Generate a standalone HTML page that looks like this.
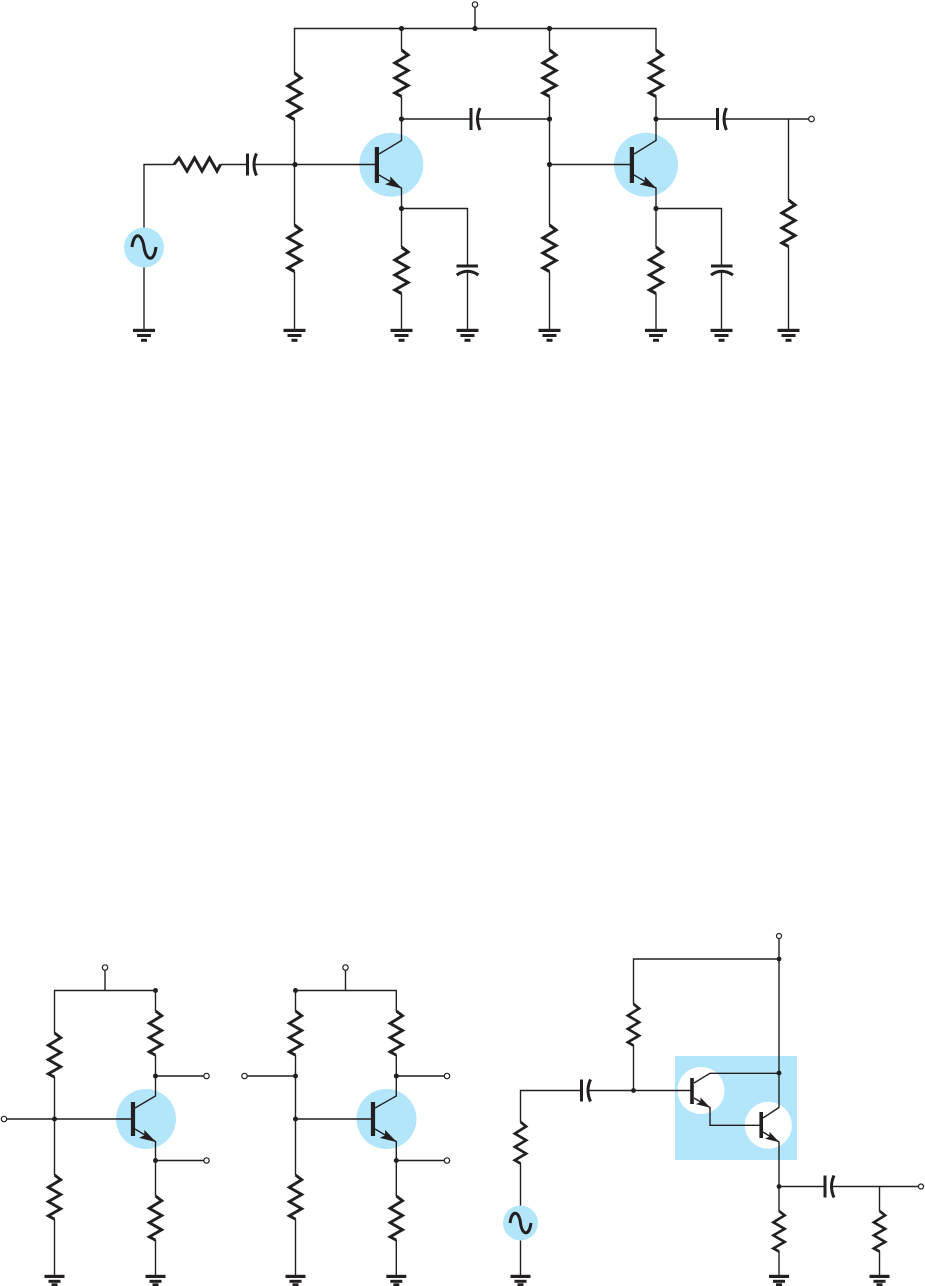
<!DOCTYPE html>
<html>
<head>
<meta charset="utf-8">
<style>
html,body{margin:0;padding:0;background:#fff;}
svg{display:block;}
.w{fill:none;stroke:#231f20;stroke-width:1.4;}
.z{fill:none;stroke:#231f20;stroke-width:3;stroke-linejoin:miter;}
.p{fill:none;stroke:#231f20;stroke-width:3;}
.d{fill:#231f20;}
.a{fill:#231f20;stroke:#231f20;stroke-width:.4;}
.t{fill:#fff;stroke:#231f20;stroke-width:1.2;}
.b{fill:#b3e5fb;}
</style>
</head>
<body>
<svg width="925" height="1286" viewBox="0 0 925 1286" xmlns="http://www.w3.org/2000/svg">
<defs>
<path id="r" class="z" d="M0 0L6.6 5L-6.6 13L6.6 20.500L-6.6 28L6.6 35.500L-6.6 43L0 46.500"/>
<g id="g"><rect x="-11" y="328.800" width="22" height="3.200" class="d"/><rect x="-7" y="334" width="14" height="3" class="d"/><rect x="-3" y="338.800" width="6" height="3" class="d"/></g>
<g id="g2"><rect x="-10" y="1274.800" width="20" height="3.200" class="d"/><rect x="-6" y="1279.800" width="12" height="3" class="d"/><rect x="-3" y="1283.300" width="6" height="2.700" class="d"/></g>
<g id="hc"><path class="p" d="M0 -11V11"/><path class="p" d="M9 -11Q4 0 9 11"/></g>
<path id="ar" class="a" d="M0 0L-11 -11.500L-11 -6.300L-16 -4Z"/>
</defs>

<!-- ========== top amplifier ========== -->
<circle class="b" cx="391.300" cy="164.700" r="32"/>
<circle class="b" cx="646" cy="164.700" r="32"/>
<circle class="b" cx="144" cy="247.500" r="20"/>

<path class="w" d="M294.500 73V28.500H656V50M475 7V28.500M401.500 28.500V50M401.500 96.500V140.500L379 154M549.500 28.500V50M549.500 96.500V225M549.500 271.500V329M294.500 119.500V225M294.500 271.500V329M144 227.500V164.500H174M220.500 164.500H247M254 164.500H377M144 267.500V329M401.500 119H471M477 119H549.500M379 175L401.500 188V247M401.500 293.500V329M401.500 208.500H467.500V266M467.500 272V329M549.500 164.500H632M656 96.500V140.500L634 154M634 175L656 188V247M656 293.500V329M656 208.500H721.500V266M721.500 272V329M656 119H717M724 119H809M788.500 119V200M788.500 246.500V329"/>

<use href="#r" x="294.500" y="73"/>
<use href="#r" x="401.500" y="50"/>
<use href="#r" x="549.500" y="50"/>
<use href="#r" x="656" y="50"/>
<use href="#r" x="294.500" y="225"/>
<use href="#r" x="401.500" y="247"/>
<use href="#r" x="549.500" y="225"/>
<use href="#r" x="656" y="247"/>
<use href="#r" x="788.500" y="200"/>
<use href="#r" transform="translate(174 164.500) rotate(-90)"/>

<use href="#hc" x="247.500" y="164.500"/>
<use href="#hc" x="471" y="119"/>
<use href="#hc" x="717.500" y="119"/>

<path class="p" d="M456.500 266H478M456.700 275Q467.500 267.500 478.500 275"/>
<path class="p" d="M711 266H732.500M711 275Q721.500 267.500 733 275"/>

<path class="z" d="M132 247C134 231 142 233 144 247S154 263 156 247"/>

<rect class="d" x="374.800" y="147" width="4.200" height="36"/>
<rect class="d" x="629.800" y="147" width="4.200" height="36"/>
<use href="#ar" x="401.500" y="188.300"/>
<use href="#ar" x="656" y="188.300"/>

<use href="#g" x="144"/><use href="#g" x="294.500"/><use href="#g" x="401.500"/><use href="#g" x="467.500"/>
<use href="#g" x="549.500"/><use href="#g" x="656"/><use href="#g" x="721.500"/><use href="#g" x="788.500"/>

<g class="d">
<circle cx="401.500" cy="28.500" r="2.600"/><circle cx="475" cy="28.500" r="2.600"/><circle cx="549.500" cy="28.500" r="2.600"/>
<circle cx="401.500" cy="119" r="2.600"/><circle cx="549.500" cy="119" r="2.600"/><circle cx="656" cy="119" r="2.600"/>
<circle cx="295" cy="164.500" r="2.600"/><circle cx="549.500" cy="164.500" r="2.600"/>
<circle cx="401.500" cy="208.500" r="2.600"/><circle cx="656" cy="208.500" r="2.600"/>
</g>
<circle class="t" cx="475" cy="4.500" r="2.700"/>
<circle class="t" cx="811.500" cy="119" r="2.800"/>

<!-- ========== bottom left ========== -->
<circle class="b" cx="146" cy="1119" r="30"/>
<path class="w" d="M105 970V990.500M54.500 1033V990.500H155.500V1011M54.500 1077V1175M54.500 1219V1275M155.500 1055V1096L135 1108M7 1119H133M135 1129L155.500 1141.500V1196M155.500 1240V1275M155.500 1076H204M155.500 1160.500H204"/>
<g transform="translate(54.500 1033) scale(.95 .95)"><use href="#r"/></g>
<g transform="translate(155.500 1011) scale(.95 .95)"><use href="#r"/></g>
<g transform="translate(54.500 1175) scale(.95 .95)"><use href="#r"/></g>
<g transform="translate(155.500 1196) scale(.95 .95)"><use href="#r"/></g>
<rect class="d" x="130.900" y="1102" width="4.200" height="34"/>
<use href="#ar" x="155.500" y="1141.800"/>
<use href="#g2" x="54.500"/><use href="#g2" x="155.500"/>
<g class="d"><circle cx="155.500" cy="990.500" r="2.500"/><circle cx="155.500" cy="1076" r="2.500"/><circle cx="54.500" cy="1119" r="2.500"/><circle cx="155.500" cy="1160.500" r="2.500"/></g>
<circle class="t" cx="105" cy="967.500" r="2.700"/><circle class="t" cx="206.500" cy="1076" r="2.700"/><circle class="t" cx="4" cy="1119" r="2.700"/><circle class="t" cx="206.500" cy="1160.500" r="2.700"/>

<!-- ========== bottom middle ========== -->
<circle class="b" cx="386.500" cy="1119" r="30"/>
<path class="w" d="M345.500 970V990.500M295.500 1011V990.500H396.300V1011M295.500 1055V1175M295.500 1219V1275M396.300 1055V1096L375 1108M295.500 1119H373M375 1129L396.300 1141.500V1196M396.300 1240V1275M247 1076H295.500M396.300 1076H444.500M396.300 1160.500H444.500"/>
<g transform="translate(295.500 1011) scale(.95 .95)"><use href="#r"/></g>
<g transform="translate(396.300 1011) scale(.95 .95)"><use href="#r"/></g>
<g transform="translate(295.500 1175) scale(.95 .95)"><use href="#r"/></g>
<g transform="translate(396.300 1196) scale(.95 .95)"><use href="#r"/></g>
<rect class="d" x="370.900" y="1102" width="4.200" height="34"/>
<use href="#ar" x="396.300" y="1141.800"/>
<use href="#g2" x="295.500"/><use href="#g2" x="396.300"/>
<g class="d"><circle cx="295.500" cy="990.500" r="2.500"/><circle cx="295.500" cy="1076" r="2.500"/><circle cx="396.300" cy="1076" r="2.500"/><circle cx="295.500" cy="1119" r="2.500"/><circle cx="396.300" cy="1160.500" r="2.500"/></g>
<circle class="t" cx="345.500" cy="967.500" r="2.700"/><circle class="t" cx="244.500" cy="1076" r="2.700"/><circle class="t" cx="447" cy="1076" r="2.700"/><circle class="t" cx="447" cy="1160.500" r="2.700"/>

<!-- ========== bottom right (Darlington) ========== -->
<rect class="b" x="675" y="1056" width="122" height="104"/>
<circle cx="701" cy="1090.500" r="23.500" fill="#fff"/>
<circle cx="768.300" cy="1125.300" r="23.500" fill="#fff"/>
<circle class="b" cx="520.500" cy="1223" r="17.500"/>
<path class="w" d="M779 938.500V1107.500L763 1118M633.500 1004V959H779M633.500 1045V1090.500M520.500 1122V1090.500H581M588 1090.500H692M520.500 1163V1205.500M520.500 1240.500V1275M694 1083L710 1073.300H779M694 1098L710 1107.500V1125.300H761M763 1132L779 1142V1211M779 1251V1275M779 1186.500H825M832 1186.500H918.500M879.500 1186.500V1211M879.500 1251V1275"/>
<g transform="translate(633.500 1004) scale(.86 .89)"><use href="#r"/></g>
<g transform="translate(520.500 1122) scale(.86 .89)"><use href="#r"/></g>
<g transform="translate(779 1211) scale(.86 .87)"><use href="#r"/></g>
<g transform="translate(879.500 1211) scale(.86 .87)"><use href="#r"/></g>
<use href="#hc" x="581.500" y="1090.500"/>
<use href="#hc" x="825" y="1186.500"/>
<path class="z" d="M510 1223C512 1209 519 1211 520.500 1223S529 1237 531 1223"/>
<rect class="d" x="690.200" y="1078" width="3.600" height="26"/>
<rect class="d" x="759.400" y="1112" width="3.600" height="26"/>
<use href="#ar" transform="translate(710 1107.500) scale(.85)"/>
<use href="#ar" transform="translate(779 1142) scale(.85)"/>
<use href="#g2" x="520.500"/><use href="#g2" x="779"/><use href="#g2" x="879.500"/>
<g class="d"><circle cx="779" cy="959" r="2.400"/><circle cx="779" cy="1073" r="2.400"/><circle cx="633.500" cy="1090.500" r="2.400"/><circle cx="779" cy="1186.500" r="2.400"/></g>
<circle class="t" cx="779" cy="936" r="2.500"/><circle class="t" cx="921" cy="1186.500" r="2.500"/>
</svg>
</body>
</html>
